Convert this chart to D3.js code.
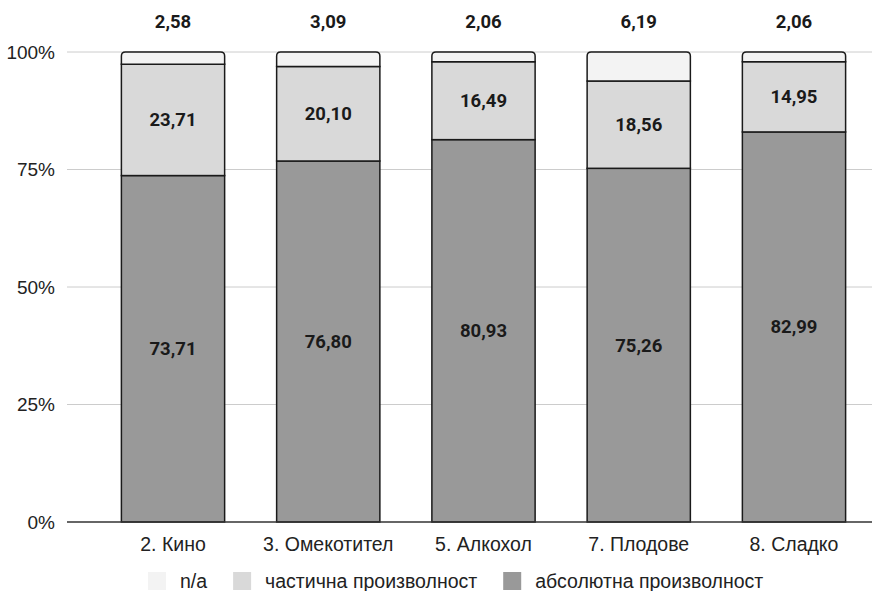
<!DOCTYPE html>
<html>
<head>
<meta charset="utf-8">
<script src="https://cdn.jsdelivr.net/npm/d3@7/dist/d3.min.js"></script>
<style>
  html, body { margin: 0; padding: 0; background: #fff; }
  svg { display: block; font-family: "Liberation Sans", Arial, sans-serif; }
  .val { font-family: Roboto, "Liberation Sans", sans-serif; font-weight: bold; }
</style>
</head>
<body>
<svg id="chart" width="893" height="591"></svg>
<script>
// Categories and series (percent shares)
const categories = ["2. Кино", "3. Омекотител", "5. Алкохол", "7. Плодове", "8. Сладко"];
const absolute = [73.71, 76.80, 80.93, 75.26, 82.99];
const partial  = [23.71, 20.10, 16.49, 18.56, 14.95];
const na       = [2.58, 3.09, 2.06, 6.19, 2.06];

const seriesKeys   = ["absolute", "partial", "na"];
const seriesNames  = { na: "n/a", partial: "частична произволност", absolute: "абсолютна произволност" };
const seriesColors = { absolute: "#999999", partial: "#d9d9d9", na: "#f3f3f3" };
const yTicks = [0, 0.25, 0.5, 0.75, 1];

const fmt = v => v.toFixed(2).replace(".", ",");

const rows = categories.map((c, i) => ({ cat: c, absolute: absolute[i], partial: partial[i], na: na[i] }));

const svg = d3.select("#chart");
const plotLeft = 67, plotRight = 872, plotTop = 52, plotBottom = 522;
const labelSize = 19.5, valueSize = 18.5;

const x = d3.scaleBand().domain(categories).range([95, plotRight]).paddingInner(0.335).paddingOuter(0.17);
const y = d3.scaleLinear().domain([0, 1]).range([plotBottom, plotTop]);

const stack = d3.stack().keys(seriesKeys).offset(d3.stackOffsetExpand);
const layers = stack(rows);

// gridlines
svg.append("g").selectAll("line").data(yTicks.filter(t => t > 0)).join("line")
  .attr("x1", plotLeft).attr("x2", plotRight)
  .attr("y1", d => y(d)).attr("y2", d => y(d))
  .attr("stroke", "#cccccc").attr("stroke-width", 1);

// y tick labels
svg.append("g").selectAll("text").data(yTicks).join("text")
  .attr("x", 55).attr("y", d => y(d)).attr("dy", "0.35em")
  .attr("text-anchor", "end").attr("font-size", 19).attr("fill", "#222")
  .text(d => d3.format(".0%")(d));

// bars
const bw = x.bandwidth();
const r = 4;
function roundedTop(x0, y0, w, h) {
  return `M${x0},${y0 + h}V${y0 + r}Q${x0},${y0} ${x0 + r},${y0}H${x0 + w - r}Q${x0 + w},${y0} ${x0 + w},${y0 + r}V${y0 + h}Z`;
}

layers.forEach(layer => {
  const key = layer.key;
  const g = svg.append("g");
  layer.forEach(d => {
    const x0 = x(d.data.cat), y0 = y(d[1]), h = y(d[0]) - y(d[1]);
    if (key === "na") {
      g.append("path").attr("d", roundedTop(x0, y0, bw, h))
        .attr("fill", seriesColors[key]).attr("stroke", "#1a1a1a").attr("stroke-width", 1.5);
    } else {
      g.append("rect").attr("x", x0).attr("y", y0).attr("width", bw).attr("height", h)
        .attr("fill", seriesColors[key]).attr("stroke", "#1a1a1a").attr("stroke-width", 1.5);
    }
  });
});

// baseline
svg.append("line").attr("x1", plotLeft).attr("x2", plotRight).attr("y1", plotBottom).attr("y2", plotBottom)
  .attr("stroke", "#333").attr("stroke-width", 1.5);

// value labels inside segments
layers.filter(l => l.key !== "na").forEach(layer => {
  svg.append("g").selectAll("text").data(layer).join("text")
    .attr("class", "val")
    .attr("x", d => x(d.data.cat) + bw / 2)
    .attr("y", d => (y(d[0]) + y(d[1])) / 2)
    .attr("dy", "0.35em").attr("text-anchor", "middle")
    .attr("font-size", valueSize).attr("fill", "#1a1a1a")
    .text(d => fmt(d.data[layer.key]));
});

// n/a values above bars
svg.append("g").selectAll("text").data(rows).join("text")
  .attr("class", "val")
  .attr("x", d => x(d.cat) + bw / 2).attr("y", 22).attr("dy", "0.35em")
  .attr("text-anchor", "middle").attr("font-size", valueSize).attr("fill", "#1a1a1a")
  .text(d => fmt(d.na));

// category labels
svg.append("g").selectAll("text").data(categories).join("text")
  .attr("x", d => x(d) + bw / 2).attr("y", 544).attr("dy", "0.35em")
  .attr("text-anchor", "middle").attr("font-size", labelSize).attr("fill", "#222")
  .text(d => d);

// legend
const legendOrder = ["na", "partial", "absolute"];
const lg = svg.append("g");
let lx = 148;
legendOrder.forEach(k => {
  lg.append("rect").attr("x", lx).attr("y", 572).attr("width", 18).attr("height", 18)
    .attr("fill", seriesColors[k]);
  const t = lg.append("text").attr("x", lx + 32).attr("y", 581).attr("dy", "0.35em")
    .attr("font-size", labelSize).attr("fill", "#222").text(seriesNames[k]);
  lx += 32 + t.node().getComputedTextLength() + 26;
});
</script>
</body>
</html>
